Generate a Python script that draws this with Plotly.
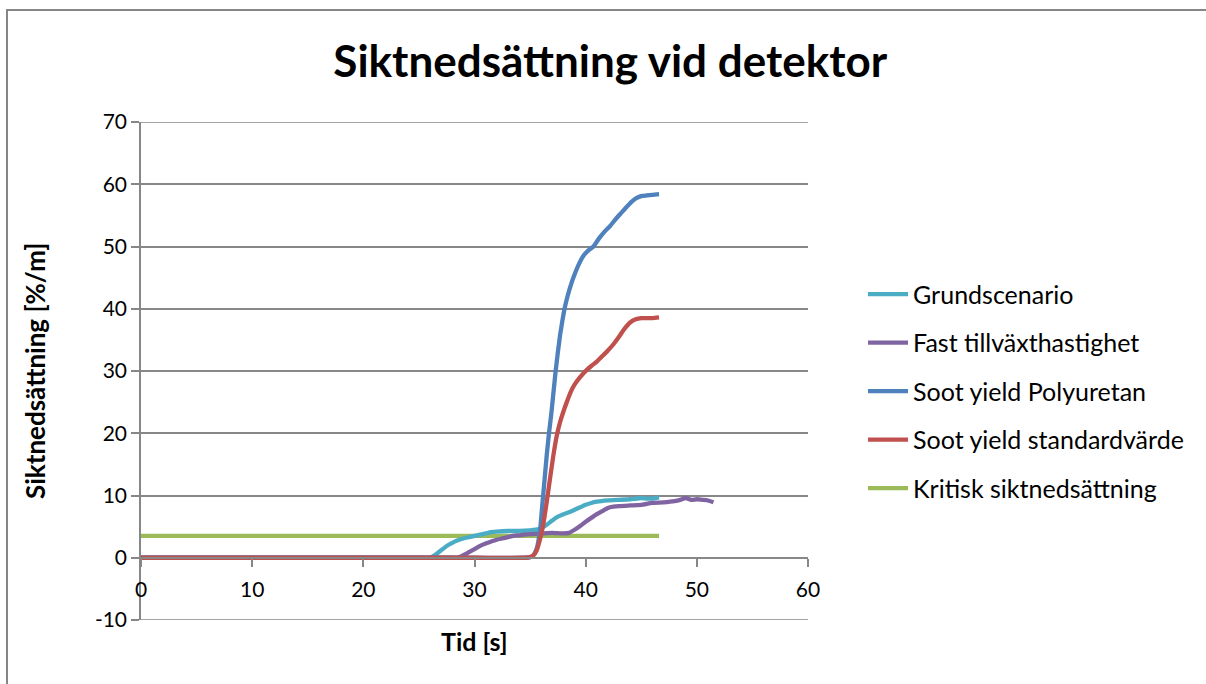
import plotly.graph_objects as go

# Siktnedsättning vid detektor – tid [s] och siktnedsättning [%/m]
grund_t = [0, 10, 20, 25, 26, 26.5, 27, 27.5, 28, 28.5, 29, 29.5, 30, 30.5, 31, 31.5, 32, 33,
           34, 35, 35.8, 36.5, 37, 37.5, 38, 38.5, 39, 39.5, 40, 40.5, 41, 42, 43, 44, 45,
           45.5, 46, 46.6]
grund_v = [0, 0, 0, 0, 0, 0.5, 1.2, 1.9, 2.4, 2.8, 3.1, 3.3, 3.5, 3.7, 3.9, 4.1, 4.2, 4.3,
           4.3, 4.4, 4.6, 5.3, 6.0, 6.6, 7.0, 7.3, 7.7, 8.1, 8.5, 8.8, 9.0, 9.2, 9.3, 9.4, 9.6,
           9.5, 9.5, 9.7]

fast_t = [0, 10, 20, 28, 28.5, 29, 29.5, 30, 30.5, 31, 31.5, 32, 32.5, 33, 33.5, 34, 35, 36,
          37, 38, 38.5, 39, 39.5, 40, 40.5, 41, 41.5, 42, 42.5, 43, 44, 45, 46, 47, 48, 48.5,
          49, 49.5, 50, 50.5, 51, 51.5]
fast_v = [0, 0, 0, 0, 0, 0.4, 0.9, 1.4, 1.9, 2.3, 2.6, 2.9, 3.1, 3.3, 3.5, 3.6, 3.8, 3.9,
          4.0, 3.9, 4.0, 4.5, 5.1, 5.8, 6.4, 7.0, 7.5, 8.0, 8.2, 8.3, 8.4, 8.5, 8.8, 8.9, 9.1,
          9.3, 9.6, 9.3, 9.4, 9.3, 9.2, 8.9]

poly_t = [0, 10, 20, 30, 34.5, 35, 35.3, 35.6, 35.9, 36.1, 36.3, 36.5, 36.7, 36.9, 37.1,
          37.3, 37.5, 37.7, 37.9, 38.1, 38.4, 38.7, 39, 39.4, 39.8, 40.2, 40.7, 41.2, 41.7,
          42.2, 42.7, 43.2, 43.7, 44.2, 44.6, 45, 45.5, 46, 46.6]
poly_v = [0, 0, 0, 0, 0, 0.1, 0.4, 1.5, 4.5, 8.5, 12.5, 16.5, 20.0, 23.0, 26.5, 30.0, 33.0,
          35.8, 38.0, 40.0, 42.2, 44.0, 45.5, 47.2, 48.5, 49.3, 50.0, 51.3, 52.4, 53.3, 54.4,
          55.4, 56.4, 57.3, 57.8, 58.1, 58.2, 58.3, 58.4]

std_t = [0, 10, 20, 30, 34.5, 35, 35.3, 35.6, 35.9, 36.2, 36.5, 36.8, 37.1, 37.4, 37.7, 38,
         38.3, 38.7, 39, 39.5, 40, 40.5, 41, 41.5, 42, 42.5, 43, 43.5, 44, 44.5, 45, 45.5,
         46, 46.6]
std_v = [0, 0, 0, 0, 0, 0.1, 0.4, 1.2, 3.0, 5.5, 9.0, 12.8, 16.5, 19.6, 21.8, 23.5, 25.0,
         26.8, 27.8, 29.0, 30.0, 30.8, 31.5, 32.4, 33.3, 34.3, 35.5, 36.8, 37.8, 38.3, 38.5,
         38.5, 38.5, 38.6]

krit_t = [0, 46.6]
krit_v = [3.5, 3.5]

series = [
    ("Grundscenario", grund_t, grund_v, "#4BACC6"),
    ("Fast tillväxthastighet", fast_t, fast_v, "#8064A2"),
    ("Soot yield Polyuretan", poly_t, poly_v, "#4F81BD"),
    ("Soot yield standardvärde", std_t, std_v, "#C0504D"),
    ("Kritisk siktnedsättning", krit_t, krit_v, "#9BBB59"),
]

x_ticks = [0, 10, 20, 30, 40, 50, 60]
y_ticks = [-10, 0, 10, 20, 30, 40, 50, 60, 70]
y_ticktext = ["-10", "0", "10", "20", "30", "40", "50", "60", "70"]

FONT = "Lato"
GRID = "#878787"
names = [s[0] for s in series]

fig = go.Figure()
# draw order: critical line first so the curves lie on top of it
for name, t, v, col in [series[4], series[0], series[1], series[2], series[3]]:
    fig.add_trace(go.Scatter(
        x=t, y=v, name=name, mode="lines",
        line=dict(color=col, width=4.3, shape="spline", smoothing=0.5),
        legendgroup=name, legendrank=names.index(name),
    ))

fig.update_layout(
    width=1206, height=684,
    margin=dict(l=141, r=398, t=122, b=64),
    paper_bgcolor="white", plot_bgcolor="white",
    font=dict(family=FONT, color="black", size=20),
    title=dict(text="<b>Siktnedsättning vid detektor</b>", font=dict(family=FONT, size=44),
               x=0.506, xref="container", xanchor="center",
               y=1 - 62 / 684, yref="container", yanchor="middle"),
    showlegend=True,
    legend=dict(x=1.0825, xanchor="left", y=0.70, yanchor="top",
                font=dict(family=FONT, size=25), tracegroupgap=13,
                bgcolor="rgba(0,0,0,0)", itemwidth=40),
    xaxis=dict(range=[0, 60], tickvals=x_ticks, showgrid=False, zeroline=False,
               showline=True, linecolor=GRID, linewidth=1.5,
               ticks="outside", ticklen=8, tickcolor=GRID, tickwidth=1.5,
               anchor="free", position=10 / 80, tickfont=dict(size=21),
               ticklabelstandoff=5),
    yaxis=dict(range=[-10, 70], tickvals=y_ticks, ticktext=y_ticktext, showgrid=True,
               gridcolor=GRID, gridwidth=1.5, zeroline=False, showline=True,
               linecolor=GRID, linewidth=1.5,
               ticks="outside", ticklen=8, tickcolor=GRID, tickwidth=1.5,
               tickfont=dict(size=21)),
    annotations=[
        dict(text="<b>Tid [s]</b>", x=0.5, y=-0.043, xref="paper", yref="paper",
             xanchor="center", yanchor="middle", showarrow=False,
             font=dict(family=FONT, size=25)),
        dict(text="<b>Siktnedsättning [%/m]</b>", x=(35 - 141) / 667, y=0.5,
             xref="paper", yref="paper", textangle=-90, xanchor="center",
             yanchor="middle", showarrow=False, font=dict(family=FONT, size=26)),
    ],
)

# gridlines at the ends of the value range
for yv in (y_ticks[0], y_ticks[-1]):
    fig.add_shape(type="line", xref="x", yref="y", x0=0, x1=60, y0=yv, y1=yv,
                  line=dict(color=GRID, width=1.5), layer="below")

# chart frame: top and left edges
fig.add_shape(type="line", xref="paper", yref="paper",
              x0=(6 - 141) / 667, x1=(1210 - 141) / 667,
              y0=(620 - 10) / 498, y1=(620 - 10) / 498,
              line=dict(color="#868686", width=2))
fig.add_shape(type="line", xref="paper", yref="paper",
              x0=(7 - 141) / 667, x1=(7 - 141) / 667,
              y0=(620 - 9) / 498, y1=(620 - 690) / 498,
              line=dict(color="#868686", width=2))

fig.write_html("out.html")
